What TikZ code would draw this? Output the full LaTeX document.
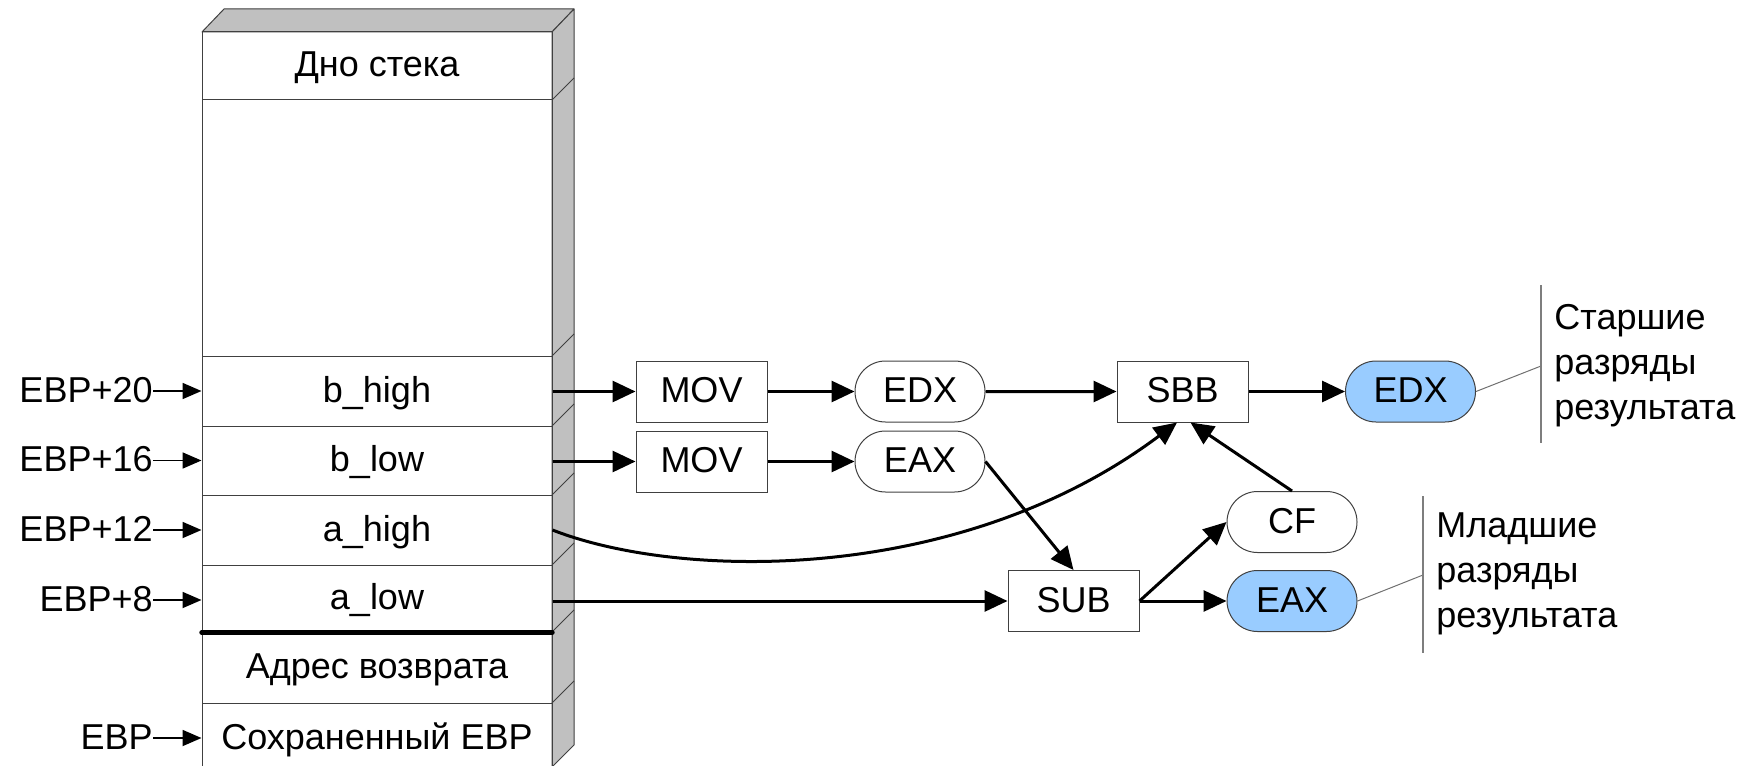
\documentclass[tikz,border=0pt]{standalone}
\usepackage{fontspec}
\setmainfont{Liberation Sans}
\usetikzlibrary{arrows.meta,shapes.misc}

\definecolor{edge}{HTML}{404040}
\definecolor{sidegray}{HTML}{C0C0C0}
\definecolor{resblue}{HTML}{99CCFF}
\definecolor{noteline}{HTML}{707070}

\tikzset{
  txt/.style={font=\fontsize{18pt}{22.5pt}\selectfont, text=black},
  oneline/.style={txt, text height=13pt, text depth=2pt},
  cell/.style={oneline, draw=edge, line width=0.5pt, rectangle, inner sep=0pt,
    minimum width=175pt},
  op/.style={oneline, draw=edge, line width=0.5pt, rectangle, inner sep=0pt,
    minimum width=65.5pt, minimum height=30.5pt},
  reg/.style={oneline, draw=edge, line width=0.5pt, rounded rectangle, inner sep=0pt,
    minimum width=65pt, minimum height=30.5pt},
  res/.style={reg, fill=resblue},
  ptrlabel/.style={oneline, inner sep=0pt, anchor=east},
  note/.style={txt, inner sep=0pt, anchor=north west, align=left},
  flow/.style={line width=1.5pt, -{Triangle[length=11.5pt,width=10.5pt]}},
  ptr/.style={line width=0.9pt, -{Triangle[length=9.5pt,width=8pt]}},
  face/.style={fill=sidegray, draw=edge, line width=0.5pt, line join=round},
  notelink/.style={draw=noteline, line width=0.5pt},
  bracket/.style={draw=noteline!90!white, line width=0.8pt}
}

\begin{document}
\begin{tikzpicture}[x=0.5pt, y=-0.5pt]
\useasboundingbox (0,0) rectangle (1760,765);

% depth faces of the stack
\path[face] (202,32) -- (224,9) -- (574,9) -- (552,32) -- cycle;
\path[face] (552,32) -- (574,9) -- (574,745) -- (552,767) -- cycle;
\foreach \yy in {100,356,426,495,565,632,703}
  \draw[edge, line width=0.5pt] (552,\yy) -- (574,\yy-22);

% stack cells
\node[cell, minimum height=34pt]   (bottom) at (377,66)    {Дно стека};
\node[cell, minimum height=128pt]  (free)   at (377,228)   {};
\node[cell, minimum height=35pt]   (bhigh)  at (377,391)   {b\_high};
\node[cell, minimum height=34.5pt] (blow)   at (377,460.5) {b\_low};
\node[cell, minimum height=35pt]   (ahigh)  at (377,530)   {a\_high};
\node[cell, minimum height=33.5pt] (alow)   at (377,598.5) {a\_low};
\node[cell, minimum height=35.5pt] (ret)    at (377,667.5) {Адрес возврата};
\node[cell, minimum height=35pt]   (saved)  at (377,738)   {Сохраненный EBP};

% frame boundary above the return address
\draw[line width=2.2pt, line cap=round] (alow.south west) -- (alow.south east);

% pointer labels
\node[ptrlabel] (ebp20) at (153,391) {EBP+20};
\node[ptrlabel] (ebp16) at (153,460.5) {EBP+16};
\node[ptrlabel] (ebp12) at (153,530) {EBP+12};
\node[ptrlabel] (ebp8)  at (153,600) {EBP+8};
\node[ptrlabel] (ebp0)  at (153,738) {EBP};

\draw[ptr] (ebp20.east) -- (ebp20.east -| bhigh.west);
\draw[ptr] (ebp16.east) -- (ebp16.east -| blow.west);
\draw[ptr] (ebp12.east) -- (ebp12.east -| ahigh.west);
\draw[ptr] (ebp8.east)  -- (ebp8.east -| alow.west);
\draw[ptr] (ebp0.east)  -- (ebp0.east -| saved.west);

% instructions and registers
\node[op]  (mov1) at (701.5,391.5) {MOV};
\node[op]  (mov2) at (701.5,461.5) {MOV};
\node[reg] (edx1) at (920,391.5)   {EDX};
\node[reg] (eax1) at (920,461.5)   {EAX};
\node[op]  (sbb)  at (1182.5,391.5) {SBB};
\node[res] (edx2) at (1410.5,391.5) {EDX};
\node[reg] (cf)   at (1292,522)    {CF};
\node[op]  (sub)  at (1073.5,601)  {SUB};
\node[res] (eax2) at (1292,601)    {EAX};

% data flow
\draw[flow] (mov1.west -| bhigh.east) -- (mov1.west);
\draw[flow] (mov1) -- (edx1);
\draw[flow] (edx1) -- (sbb);
\draw[flow] (sbb) -- (edx2);
\draw[flow] (mov2.west -| blow.east) -- (mov2.west);
\draw[flow] (mov2) -- (eax1);
\draw[flow] (eax1.east) -- (sub.north);
\draw[flow] (ahigh.east) .. controls (680,580) and (960,585) .. ([xshift=-2.75pt]sbb.south);
\draw[flow] (sub.west -| alow.east) -- (sub.west);
\draw[flow] (sub.east) -- (cf.west);
\draw[flow] (sub.east) -- (eax2.west);
\draw[flow] (cf.north) -- ([xshift=4pt]sbb.south);

% result annotations
\coordinate (hinote) at (1541,366);
\coordinate (lonote) at (1423,575);
\draw[notelink] (edx2.east) -- (hinote);
\draw[notelink] (eax2.east) -- (lonote);
\draw[bracket] (1541,285) -- (1541,443);
\draw[bracket] (1423,496) -- (1423,653);
\node[note] (hitext) at (1554,303.5) {Старшие\\разряды\\результата};
\node[note] (lotext) at (1436,512) {Младшие\\разряды\\результата};
\end{tikzpicture}
\end{document}
